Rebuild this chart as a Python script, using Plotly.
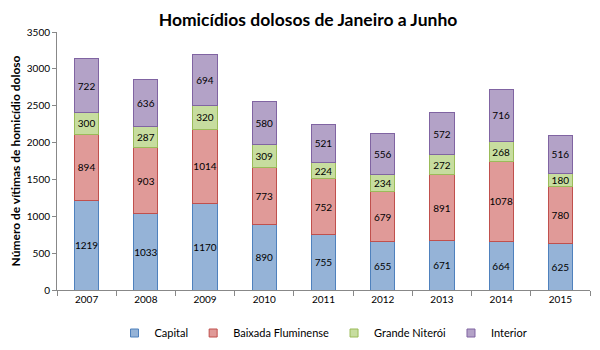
import plotly.graph_objects as go

anos = ["2007", "2008", "2009", "2010", "2011", "2012", "2013", "2014", "2015"]
capital = [1219, 1033, 1170, 890, 755, 655, 671, 664, 625]
baixada = [894, 903, 1014, 773, 752, 679, 891, 1078, 780]
niteroi = [300, 287, 320, 309, 224, 234, 272, 268, 180]
interior = [722, 636, 694, 580, 521, 556, 572, 716, 516]

series = [
    ("Capital", capital, "#95b3d7", "#4f81bd"),
    ("Baixada Fluminense", baixada, "#e09a98", "#c0504d"),
    ("Grande Niterói", niteroi, "#c7dd9f", "#9bbb59"),
    ("Interior", interior, "#b3a2c7", "#8064a2"),
]

fig = go.Figure()
for nome, vals, cor, borda in series:
    fig.add_trace(go.Bar(
        x=anos, y=vals, name=nome, showlegend=False,
        marker=dict(color=cor, line=dict(color=borda, width=1)),
        text=vals, textposition="inside", insidetextanchor="middle",
        textangle=0, constraintext="none",
        textfont=dict(color="black", size=10),
        width=0.41,
    ))
# small square legend keys, like the original
for nome, vals, cor, borda in series:
    fig.add_trace(go.Scatter(
        x=[None], y=[None], mode="markers", name=nome,
        marker=dict(symbol="square", size=8, color=cor,
                    line=dict(color=borda, width=1)),
    ))

fig.update_layout(
    barmode="stack",
    width=600, height=350,
    paper_bgcolor="white", plot_bgcolor="white",
    font=dict(family="Lato, Noto Sans, sans-serif", color="black", size=10),
    title=dict(text="<b>Homicídios dolosos de Janeiro a Junho</b>",
               x=0.5, xanchor="center", y=0.985, yanchor="top",
               font=dict(size=17.5)),
    margin=dict(l=49, r=18, t=24, b=68, autoexpand=False),
    showlegend=True,
    legend=dict(orientation="h", x=0.5, xanchor="center",
                yref="container", y=0.03, yanchor="bottom",
                font=dict(size=11), traceorder="normal",
                itemwidth=30),
    uniformtext=dict(mode="show", minsize=10),
)
fig.update_yaxes(range=[0, 3500], dtick=500, showgrid=False,
                 showline=True, linecolor="#888888", ticks="outside",
                 ticklen=4, tickcolor="#888888",
                 title=dict(text="<b>Número de vítimas de homicídio doloso</b>",
                            font=dict(size=12), standoff=8))
fig.update_xaxes(showgrid=False, showline=True, linecolor="#888888",
                 ticks="outside", tickson="boundaries", ticklen=5,
                 tickcolor="#888888")

fig.write_html("out.html")
